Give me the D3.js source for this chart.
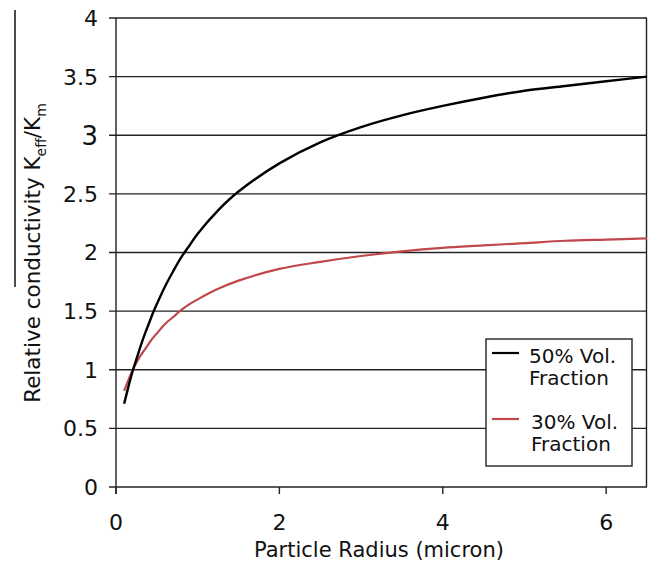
<!DOCTYPE html>
<html>
<head>
<meta charset="utf-8">
<script src="https://cdn.jsdelivr.net/npm/d3@7"></script>
<style>
  body { margin: 0; background: #fff; }
  text { font-family: "DejaVu Sans", Verdana, sans-serif; fill: #111; }
</style>
</head>
<body>
<svg id="chart" width="649" height="562"></svg>
<script>
// particle radius (micron)
const radius = [0.1, 0.15, 0.2, 0.25, 0.3, 0.35, 0.4, 0.45, 0.5, 0.6, 0.7, 0.8, 0.9, 1.0, 1.25, 1.5, 2, 2.5, 3, 3.5, 4, 4.5, 5, 5.5, 6, 6.5];
// relative conductivity
const vol50 = [0.71, 0.85, 0.98, 1.09, 1.2, 1.3, 1.39, 1.48, 1.56, 1.71, 1.84, 1.96, 2.06, 2.16, 2.36, 2.52, 2.76, 2.94, 3.07, 3.17, 3.25, 3.32, 3.38, 3.42, 3.46, 3.5];
const vol30 = [0.82, 0.91, 0.99, 1.06, 1.12, 1.17, 1.22, 1.27, 1.31, 1.39, 1.45, 1.51, 1.56, 1.6, 1.69, 1.76, 1.86, 1.92, 1.97, 2.01, 2.04, 2.06, 2.08, 2.1, 2.11, 2.12];

const xTicks = [0, 2, 4, 6];
const yTicks = [0, 0.5, 1, 1.5, 2, 2.5, 3, 3.5, 4];
const seriesNames = ["50% Vol.", "30% Vol."];

const svg = d3.select("#chart");
const margin = { top: 18, right: 2, bottom: 75, left: 116 };
const W = 649, H = 562;

const x = d3.scaleLinear().domain([0, 6.5]).range([margin.left, W - margin.right]);
const y = d3.scaleLinear().domain([0, 4]).range([H - margin.bottom, margin.top]);

// horizontal grid + y ticks
svg.append("g")
  .selectAll("line")
  .data(yTicks)
  .join("line")
  .attr("x1", margin.left - 7)
  .attr("x2", W - margin.right)
  .attr("y1", d => y(d))
  .attr("y2", d => y(d))
  .attr("stroke", "#222")
  .attr("stroke-width", 1.4);

// right border and left axis
svg.append("line")
  .attr("x1", x(6.5) - 0.5).attr("x2", x(6.5) - 0.5)
  .attr("y1", y(4)).attr("y2", y(0))
  .attr("stroke", "#222").attr("stroke-width", 1.4);

svg.append("line")
  .attr("x1", x(0)).attr("x2", x(0))
  .attr("y1", y(4)).attr("y2", y(0) + 7)
  .attr("stroke", "#222").attr("stroke-width", 1.4);

// x tick marks
svg.append("g")
  .selectAll("line")
  .data(xTicks)
  .join("line")
  .attr("x1", d => x(d)).attr("x2", d => x(d))
  .attr("y1", y(0)).attr("y2", y(0) + 7)
  .attr("stroke", "#222").attr("stroke-width", 1.4);

// tick labels
svg.append("g")
  .selectAll("text")
  .data(yTicks)
  .join("text")
  .attr("x", margin.left - 18)
  .attr("y", d => y(d))
  .attr("dy", "0.36em")
  .attr("text-anchor", "end")
  .style("font-size", d => d === 3 ? "26px" : "22px")
  .text(d => d);

svg.append("g")
  .selectAll("text")
  .data(xTicks)
  .join("text")
  .attr("x", d => x(d))
  .attr("y", y(0) + 43)
  .attr("text-anchor", "middle")
  .style("font-size", "22px")
  .text(d => d);

// axis titles
svg.append("text")
  .attr("x", 379)
  .attr("y", 557)
  .attr("text-anchor", "middle")
  .style("font-size", "21px")
  .text("Particle Radius (micron)");

const yl = svg.append("text")
  .attr("transform", `translate(40, 253) rotate(-90)`)
  .attr("text-anchor", "middle")
  .style("font-size", "21.5px");
yl.append("tspan").text("Relative conductivity K");
yl.append("tspan").attr("dy", 6).style("font-size", "14px").text("eff");
yl.append("tspan").attr("dy", -6).text("/K");
yl.append("tspan").attr("dy", 6).style("font-size", "14px").text("m");

// stray rule left of the y title (present in the source image)
svg.append("line")
  .attr("x1", 15).attr("x2", 15)
  .attr("y1", 10).attr("y2", 287)
  .attr("stroke", "#111").attr("stroke-width", 1.5);

// curves
const line = d3.line()
  .x(d => x(d[0]))
  .y(d => y(d[1]))
  .curve(d3.curveCatmullRom);

svg.append("path")
  .datum(radius.map((r, i) => [r, vol30[i]]))
  .attr("fill", "none")
  .attr("stroke", "#c0474a")
  .attr("stroke-width", 2.2)
  .attr("d", line);

svg.append("path")
  .datum(radius.map((r, i) => [r, vol50[i]]))
  .attr("fill", "none")
  .attr("stroke", "#000")
  .attr("stroke-width", 2.4)
  .attr("d", line);

// legend
const lg = svg.append("g").attr("transform", "translate(486, 339)");
lg.append("rect")
  .attr("width", 146).attr("height", 127)
  .attr("fill", "#fff")
  .attr("stroke", "#222").attr("stroke-width", 1.4);

const legendColors = ["#000", "#c0474a"];
seriesNames.forEach((name, i) => {
  const oy = i * 66;
  lg.append("line")
    .attr("x1", 6).attr("x2", 33)
    .attr("y1", 14 + oy).attr("y2", 14 + oy)
    .attr("stroke", legendColors[i]).attr("stroke-width", 2.2);
  lg.append("text")
    .attr("x", i === 0 ? 43 : 45).attr("y", 24 + oy)
    .style("font-size", "20px")
    .text(name);
  lg.append("text")
    .attr("x", i === 0 ? 43 : 45).attr("y", 46 + oy)
    .style("font-size", "20px")
    .text("Fraction");
});
</script>
</body>
</html>
